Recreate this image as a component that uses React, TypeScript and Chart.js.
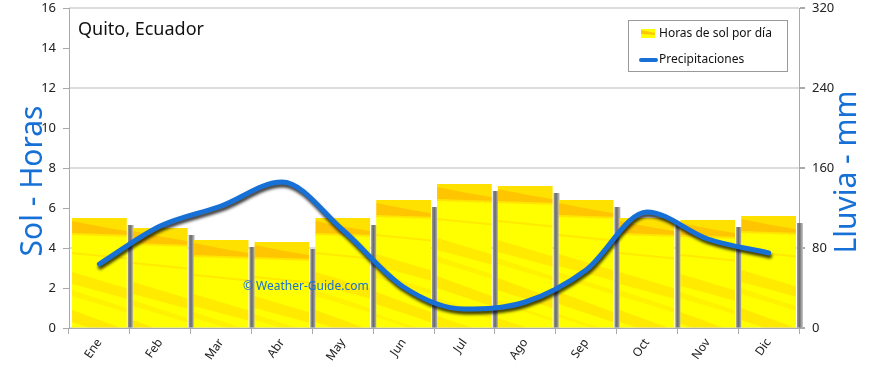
import React, { useEffect, useRef } from 'react';
import { Chart, registerables } from 'chart.js';

Chart.register(...registerables);

const months = ['Ene', 'Feb', 'Mar', 'Abr', 'May', 'Jun', 'Jul', 'Ago', 'Sep', 'Oct', 'Nov', 'Dic'];
const sunHours = [5.5, 5.0, 4.4, 4.3, 5.5, 6.4, 7.2, 7.1, 6.4, 5.5, 5.4, 5.6];
const rainMm = [64, 102, 122, 146, 98, 41, 19, 26, 58, 116, 89, 75];

const chartTitle = 'Quito, Ecuador';
const sunLabel = 'Horas de sol por día';
const rainLabel = 'Precipitaciones';
const leftTitle = 'Sol - Horas';
const rightTitle = 'Lluvia - mm';
const watermark = '© Weather-Guide.com';

const BLUE = '#1670d6';
const FONT = '"Noto Sans", sans-serif';
const CAT_PCT = 0.9;

function makeTexture(): HTMLCanvasElement {
  const w = 60;
  const h = 240;
  const c = document.createElement('canvas');
  c.width = w;
  c.height = h;
  const g = c.getContext('2d')!;
  g.fillStyle = '#ffff00';
  g.fillRect(0, 0, w, h);
  const poly = (pts: number[][], color: string) => {
    g.fillStyle = color;
    g.beginPath();
    g.moveTo(pts[0][0], pts[0][1]);
    for (let i = 1; i < pts.length; i++) g.lineTo(pts[i][0], pts[i][1]);
    g.closePath();
    g.fill();
  };
  poly([[0, 0], [w, 0], [w, 17], [0, 15]], 'rgba(255,200,0,0.55)');
  poly([[0, 3], [w * 0.5, 9], [w, 14], [w, 17], [0, 15]], 'rgba(255,170,0,0.5)');
  poly([[0, 15], [w, 17], [w, 19], [0, 17]], 'rgba(255,185,0,0.35)');
  poly([[0, 34], [w, 40], [w, 42], [0, 36]], 'rgba(255,185,0,0.3)');
  poly([[0, 54], [w, 72], [w, 82], [0, 66]], 'rgba(255,180,0,0.28)');
  poly([[0, 72], [w, 92], [w, 96], [0, 78]], 'rgba(255,195,0,0.22)');
  poly([[0, 92], [w, 114], [w, 124], [0, 104]], 'rgba(255,175,0,0.28)');
  poly([[0, 114], [w, 134], [w, 137], [0, 117]], 'rgba(255,200,0,0.22)');
  poly([[0, 132], [w, 152], [w, 162], [0, 144]], 'rgba(255,185,0,0.25)');
  poly([[0, 162], [w, 180], [w, 185], [0, 167]], 'rgba(255,195,0,0.2)');
  poly([[0, 187], [w, 205], [w, 213], [0, 195]], 'rgba(255,185,0,0.2)');
  return c;
}

export default function App() {
  const ref = useRef<HTMLCanvasElement>(null);

  useEffect(() => {
    document.body.style.margin = '0';
    const canvas = ref.current!;
    const texture = makeTexture();

    const decor = {
      id: 'decor',
      beforeDatasetDraw(chart: any, args: any) {
        const ctx = chart.ctx;
        if (args.meta.type === 'bar') {
          args.meta.data.forEach((el: any) => {
            const { x, y, base, width } = el.getProps(['x', 'y', 'base', 'width'], true);
            const r = x + width / 2 + 1;
            const grad = ctx.createLinearGradient(r, 0, r + 6, 0);
            grad.addColorStop(0, '#9a9a9a');
            grad.addColorStop(0.4, '#6a6a6a');
            grad.addColorStop(1, '#c8c8c8');
            ctx.save();
            ctx.fillStyle = grad;
            ctx.fillRect(r, y + 7, 6, base - y - 7);
            ctx.restore();
          });
        } else if (args.meta.type === 'line') {
          ctx.save();
          ctx.shadowColor = 'rgba(0,0,0,0.75)';
          ctx.shadowOffsetX = 1;
          ctx.shadowOffsetY = 3;
          ctx.shadowBlur = 3;
        }
      },
      afterDatasetDraw(chart: any, args: any) {
        if (args.meta.type === 'line') chart.ctx.restore();
      },
      afterDraw(chart: any) {
        const ctx = chart.ctx;
        const area = chart.chartArea;
        ctx.save();
        ctx.fillStyle = '#111';
        ctx.font = `18px ${FONT}`;
        ctx.textAlign = 'left';
        ctx.textBaseline = 'middle';
        ctx.fillText(chartTitle, area.left + 9, 30);
        ctx.fillStyle = BLUE;
        ctx.font = `12px ${FONT}`;
        ctx.fillText(watermark, 243, 287);
        ctx.font = `30px ${FONT}`;
        ctx.textAlign = 'center';
        ctx.save();
        ctx.translate(33, 181);
        ctx.rotate(-Math.PI / 2);
        ctx.fillText(leftTitle, 0, 0);
        ctx.restore();
        ctx.save();
        ctx.translate(847, 172);
        ctx.rotate(-Math.PI / 2);
        ctx.fillText(rightTitle, 0, 0);
        ctx.restore();
        const lx = 628, ly = 20, lw = 159, lh = 51;
        ctx.fillStyle = '#ffffff';
        ctx.fillRect(lx, ly, lw, lh);
        ctx.strokeStyle = '#999';
        ctx.lineWidth = 1;
        ctx.strokeRect(lx + 0.5, ly + 0.5, lw, lh);
        ctx.fillStyle = '#ffff00';
        ctx.fillRect(641, 29, 14, 9);
        ctx.fillStyle = 'rgba(255,175,0,0.7)';
        ctx.beginPath();
        ctx.moveTo(641, 30);
        ctx.lineTo(655, 33);
        ctx.lineTo(655, 35);
        ctx.lineTo(641, 34);
        ctx.closePath();
        ctx.fill();
        ctx.strokeStyle = BLUE;
        ctx.lineWidth = 4;
        ctx.lineCap = 'round';
        ctx.beginPath();
        ctx.moveTo(641, 60);
        ctx.lineTo(656, 60);
        ctx.stroke();
        ctx.fillStyle = '#111';
        ctx.font = `12px ${FONT}`;
        ctx.textAlign = 'left';
        ctx.fillText(sunLabel, 659, 34);
        ctx.fillText(rainLabel, 659, 60);
        ctx.restore();
      },
    };

    const fitY = (w: number) => (s: any) => {
      s.width = w;
      s.paddingTop = 0;
      s.paddingBottom = 0;
    };

    const chart = new Chart(canvas, {
      type: 'bar',
      data: {
        labels: months,
        datasets: [
          {
            type: 'line',
            label: rainLabel,
            data: rainMm,
            yAxisID: 'y2',
            borderColor: BLUE,
            backgroundColor: BLUE,
            borderWidth: 5,
            pointRadius: 0,
            cubicInterpolationMode: 'monotone',
            fill: false,
            order: 0,
            borderCapStyle: 'round',
            borderJoinStyle: 'round',
          } as any,
          {
            type: 'bar',
            label: sunLabel,
            data: sunHours,
            yAxisID: 'y',
            borderWidth: 0,
            categoryPercentage: CAT_PCT,
            barPercentage: 1,
            order: 1,
            backgroundColor: (c: any) => {
              const ch = c.chart;
              const xs = ch.scales?.x;
              const ys = ch.scales?.y;
              if (c.type !== 'data' || !xs || !ys || !ch.ctx) return '#ffff00';
              const bw = (xs.width / months.length) * CAT_PCT;
              const left = xs.getPixelForValue(c.dataIndex) - bw / 2;
              const top = ys.getPixelForValue(c.raw);
              const p = ch.ctx.createPattern(texture, 'repeat');
              if (!p) return '#ffff00';
              p.setTransform(new DOMMatrix([1, 0, 0, 1, left, top]));
              return p;
            },
          } as any,
        ],
      },
      options: {
        responsive: false,
        animation: false,
        devicePixelRatio: 1,
        layout: { padding: { top: 8, left: 0, right: 0, bottom: 0 } },
        plugins: {
          legend: { display: false },
          tooltip: { enabled: false },
          title: { display: false },
        },
        scales: {
          x: {
            type: 'category',
            offset: true,
            grid: {
              offset: true,
              drawOnChartArea: false,
              drawTicks: true,
              tickLength: 6,
              color: '#aaa',
            },
            border: { color: '#aaa', width: 1 },
            ticks: {
              font: { family: FONT, size: 12 },
              color: '#222',
              minRotation: 55,
              maxRotation: 55,
              padding: 2,
            },
            afterFit: (s: any) => {
              s.height = 40;
              s.paddingLeft = 0;
              s.paddingRight = 0;
            },
          },
          y: {
            type: 'linear',
            position: 'left',
            min: 0,
            max: 16,
            ticks: {
              stepSize: 2,
              font: { family: FONT, size: 13 },
              color: '#222',
              padding: 7,
            },
            grid: {
              drawOnChartArea: false,
              drawTicks: true,
              tickLength: 6,
              color: '#aaa',
            },
            border: { color: '#aaa', width: 1 },
            afterFit: fitY(69),
          },
          y2: {
            type: 'linear',
            position: 'right',
            min: 0,
            max: 320,
            ticks: {
              stepSize: 80,
              font: { family: FONT, size: 13 },
              color: '#222',
              padding: 7,
            },
            grid: {
              drawOnChartArea: true,
              drawTicks: true,
              tickLength: 6,
              color: '#dcdcdc',
              tickColor: '#aaa',
              lineWidth: 2,
            },
            border: { color: '#aaa', width: 1 },
            afterFit: fitY(71),
          },
        },
      } as any,
      plugins: [decor],
    });

    return () => chart.destroy();
  }, []);

  return (
    <div style={{ width: 870, height: 368, position: 'relative' }}>
      <canvas ref={ref} width={870} height={368} style={{ display: 'block' }} />
    </div>
  );
}
